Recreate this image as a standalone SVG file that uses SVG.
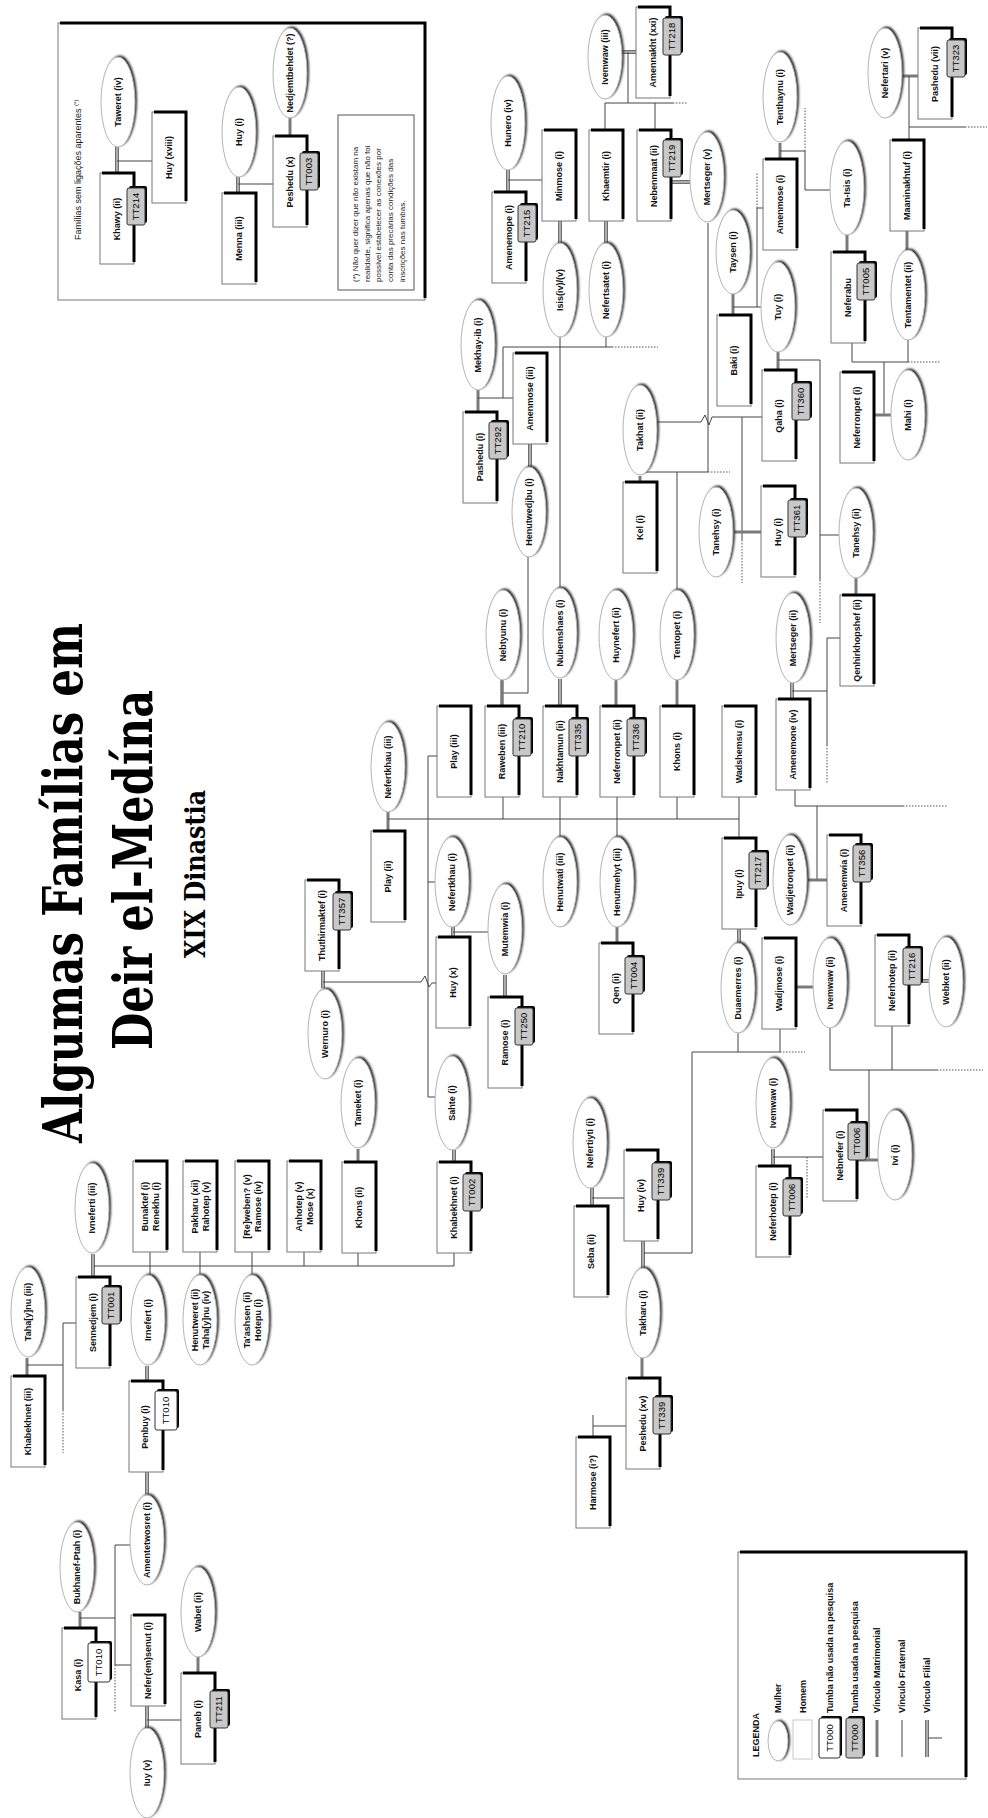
<svg xmlns="http://www.w3.org/2000/svg" width="988" height="1818" viewBox="0 0 988 1818">
<style>
.b{fill:#fff;stroke:#777;stroke-width:1}
.s{fill:none;stroke:#000;stroke-width:3}
.e{fill:#fff;stroke:#b5b5b5;stroke-width:1}
.es{fill:#2a2a2a;filter:url(#bl)}
.tg{fill:#c8c8c8;stroke:#333;stroke-width:1}
.tw{fill:#fff;stroke:#333;stroke-width:1}
.ts{fill:#000}
text{font-family:"Liberation Sans",Arial,sans-serif}
.l{font-size:9px;font-weight:bold;text-anchor:middle;fill:#111}
.tt{font-size:9.5px;text-anchor:middle;fill:#000}
.f{fill:none;stroke:#444;stroke-width:1}
.m{fill:none;stroke:#7a7a7a;stroke-width:3}
.d1{fill:none;stroke:#333;stroke-width:3.4}
.d2{fill:none;stroke:#fff;stroke-width:1.2}
.dt{fill:none;stroke:#555;stroke-width:1;stroke-dasharray:1.5 1.5}
.fn{font-size:8px;fill:#222}
.lg{font-size:9px;font-weight:bold;fill:#111}
.ti{font-family:"DejaVu Serif",serif;font-weight:bold;fill:#000}
</style>
<defs>
<filter id="bl" x="-30%" y="-30%" width="160%" height="160%"><feGaussianBlur stdDeviation="0.8"/></filter>
<g id="E"><ellipse class="es" cx="2" cy="-1.5" rx="17" ry="45"/><ellipse class="e" rx="17" ry="45"/></g>
<g id="E47"><ellipse class="es" cx="2" cy="-1.5" rx="17" ry="47"/><ellipse class="e" rx="17" ry="47"/></g>
<g id="E42"><ellipse class="es" cx="2" cy="-1.5" rx="17" ry="42"/><ellipse class="e" rx="17" ry="42"/></g>
<g id="B"><rect class="b" width="34" height="91"/><path class="s" d="M2,0H34V89"/></g>
<g id="TG"><rect class="ts" x="2" y="-2" width="18" height="37" rx="2"/><rect class="tg" width="18" height="37" rx="2"/></g>
<g id="TW"><rect class="ts" x="2" y="-2" width="22" height="39" rx="2"/><rect class="tw" width="22" height="39" rx="2"/></g>
</defs>
<rect width="988" height="1818" fill="#fff"/>

<g id="title">
<text class="ti" font-size="55" transform="translate(82,1143) rotate(-90)" textLength="520" lengthAdjust="spacingAndGlyphs">Algumas Famílias em</text>
<text class="ti" font-size="55" transform="translate(152,1050) rotate(-90)" textLength="360" lengthAdjust="spacingAndGlyphs">Deir el-Medína</text>
<text class="ti" font-size="27" transform="translate(205,958) rotate(-90)" textLength="168" lengthAdjust="spacingAndGlyphs">XIX Dinastia</text>
</g>

<g id="inset">
<rect class="b" x="58" y="23" width="367" height="277"/><path class="s" d="M60,23H425V298"/>
<text style="font-size:9px;fill:#222" dy=".35em" transform="translate(78,240) rotate(-90)">Famílias sem ligações aparentes <tspan font-size="6" dy="-3">(*)</tspan></text>
<rect x="338" y="115" width="76" height="175" fill="#fff" stroke="#555" stroke-width="1"/>
<text class="fn" dy=".35em" transform="translate(355,282) rotate(-90)">(*) Não quer dizer que não existam na</text>
<text class="fn" dy=".35em" transform="translate(367,282) rotate(-90)">realidade, significa apenas que não foi</text>
<text class="fn" dy=".35em" transform="translate(378,282) rotate(-90)">possível estabelecer as conexões por</text>
<text class="fn" dy=".35em" transform="translate(390,282) rotate(-90)">conta das precárias condições das</text>
<text class="fn" dy=".35em" transform="translate(402,282) rotate(-90)">inscrições nas tumbas.</text>
</g>

<g id="connectors">
<path class="d1" d="M117,147V173"/><path class="d2" d="M117,147V173"/>
<path class="f" d="M117,161H152"/>
<path class="d1" d="M238,177V193"/><path class="d2" d="M238,177V193"/>
<path class="f" d="M238,184H273"/>
<path class="m" d="M290,117V136"/>
<path class="d1" d="M508,170V192"/><path class="d2" d="M508,170V192"/>
<path class="f" d="M508,180H542"/>
<path class="d1" d="M560,221V243"/><path class="d2" d="M560,221V243"/>
<path class="d1" d="M606,221V243"/><path class="d2" d="M606,221V243"/>
<path class="f" d="M560,337V588"/>
<path class="d1" d="M622,52H636"/><path class="d2" d="M622,52H636"/>
<path class="f" d="M628,52V103M605,103H673M605,103V130M655,103V130"/>
<path class="dt" d="M673,103H688"/>
<path class="d1" d="M671,182H690"/><path class="d2" d="M671,182H690"/>
<path class="f" d="M708,223V472"/>
<path class="m" d="M478,390V412"/>
<path class="f" d="M478,398H513M503,347V398M503,347H612M606,337V347"/>
<path class="dt" d="M612,347H658"/>
<path class="d1" d="M530,444V467"/><path class="d2" d="M530,444V467"/>
<path class="f" d="M528,557V693H502"/>
<path class="m" d="M502,680V706"/>
<path class="m" d="M640,476V482"/>
<path class="f" d="M640,472H708M677,472V590"/>
<path class="dt" d="M708,472H730"/>
<path class="f" d="M657,422H701L705,415L709,425L712,417H762"/>
<path class="f" d="M742,417V540"/>
<path class="dt" d="M742,540V583"/>
<path class="m" d="M733,532H761"/>
<path class="m" d="M733,294V315"/>
<path class="f" d="M733,307H761M757,307V208H763"/>
<path class="dt" d="M757,208V172"/>
<path class="m" d="M778,352V370"/>
<path class="f" d="M778,360H820V580M820,535H839"/>
<path class="dt" d="M820,580V623"/>
<path class="m" d="M780,143V159"/>
<path class="f" d="M780,151H805V190H830"/>
<path class="dt" d="M805,151V108"/>
<path class="m" d="M847,235V252"/>
<path class="m" d="M902,76H918"/>
<path class="f" d="M909,76V140M909,127H965"/>
<path class="dt" d="M965,127H987"/>
<path class="m" d="M907,231V250"/>
<path class="f" d="M852,343V362H908V340M884,362V415"/>
<path class="dt" d="M908,362H940"/>
<path class="m" d="M874,415H891"/>
<path class="m" d="M856,578V595"/>
<path class="d1" d="M792,683V699"/><path class="d2" d="M792,683V699"/>
<path class="f" d="M792,691H827V638H840M827,691V745"/>
<path class="dt" d="M827,745V783"/>
<path class="m" d="M388,812V831"/>
<path class="f" d="M388,819H739M503,797V819M560,797V837M617,797V837M677,797V819M739,797V838"/>
<path class="m" d="M502,680V706"/>
<path class="d1" d="M560,679V706"/><path class="d2" d="M560,679V706"/>
<path class="m" d="M616,680V706"/>
<path class="m" d="M677,680V706"/>
<path class="f" d="M428,756H437M428,756V1097H437M428,882H435"/>
<path class="d1" d="M453,927V937"/><path class="d2" d="M453,927V937"/>
<path class="f" d="M453,932H488"/>
<path class="d1" d="M505,975V997"/><path class="d2" d="M505,975V997"/>
<path class="d1" d="M454,1150V1162"/><path class="d2" d="M454,1150V1162"/>
<path class="m" d="M358,1149V1162"/>
<path class="f" d="M358,1253V1266M454,1253V1266M93,1266H454"/>
<path class="m" d="M617,927V943"/>
<path class="f" d="M795,790V806H903M817,806V880"/>
<path class="dt" d="M903,806H948"/>
<path class="m" d="M807,880H827"/>
<path class="d1" d="M739,929V943"/><path class="d2" d="M739,929V943"/>
<path class="m" d="M796,987H813"/>
<path class="d1" d="M921,981H930"/><path class="d2" d="M921,981H930"/>
<path class="f" d="M830,1028V1070H937M892,1026V1070M869,1070V1160"/>
<path class="dt" d="M937,1070H983"/>
<path class="m" d="M857,1160H878"/>
<path class="d1" d="M773,1149V1166"/><path class="d2" d="M773,1149V1166"/>
<path class="f" d="M773,1157H823"/>
<path class="dt" d="M807,1157V1198"/>
<path class="f" d="M738,1033V1052M780,1029V1052M643,1253H692V1052H780"/>
<path class="dt" d="M780,1052H805"/>
<path class="d1" d="M592,1188V1206"/><path class="d2" d="M592,1188V1206"/>
<path class="f" d="M592,1198H624"/>
<path class="d1" d="M643,1241V1268"/><path class="d2" d="M643,1241V1268"/>
<path class="m" d="M642,1358V1378"/>
<path class="f" d="M593,1415V1437M593,1426H626"/>
<path class="d1" d="M323,971V988"/><path class="d2" d="M323,971V988"/>
<path class="f" d="M323,982H421L425,976L429,987L432,983H436"/>
<path class="d1" d="M93,1254V1277"/><path class="d2" d="M93,1254V1277"/>
<path class="f" d="M150,1252V1274M200,1252V1274M252,1252V1274M304,1252V1266"/>
<path class="m" d="M27,1358V1376"/>
<path class="f" d="M27,1365H63M63,1323H76M63,1323V1410"/>
<path class="dt" d="M63,1410V1453"/>
<path class="d1" d="M147,1366V1381"/><path class="d2" d="M147,1366V1381"/>
<path class="d1" d="M147,1472V1494"/><path class="d2" d="M147,1472V1494"/>
<path class="m" d="M80,1612V1628"/>
<path class="f" d="M80,1618H115M115,1545H130M115,1545V1665H131"/>
<path class="dt" d="M115,1665V1712"/>
<path class="d1" d="M147,1706V1729"/><path class="d2" d="M147,1706V1729"/>
<path class="f" d="M147,1720H181"/>
<path class="m" d="M198,1657V1673"/>
</g>

<g id="n-taweret-iv"><use href="#E" x="118" y="102"/><text class="l" dy=".35em" transform="translate(118,102) rotate(-90)">Taweret (iv)</text></g>
<g id="n-khawy-ii"><use href="#B" x="100" y="173"/><use href="#TG" x="127" y="188"/><text class="l" dy=".35em" transform="translate(117,219) rotate(-90)">Khawy (ii)</text><text class="tt" dy=".35em" transform="translate(136,206.5) rotate(-90)">TT214</text></g>
<g id="n-huy-xviii"><use href="#B" x="152" y="112"/><text class="l" dy=".35em" transform="translate(169,157.5) rotate(-90)">Huy (xviii)</text></g>
<g id="n-huy-i-a"><use href="#E" x="239" y="132"/><text class="l" dy=".35em" transform="translate(239,132) rotate(-90)">Huy (i)</text></g>
<g id="n-nedjemtbehdet"><use href="#E" x="290" y="73"/><text class="l" dy=".35em" transform="translate(290,73) rotate(-90)">Nedjemtbehdet (?)</text></g>
<g id="n-menna-iii"><use href="#B" x="222" y="193"/><text class="l" dy=".35em" transform="translate(239,238.5) rotate(-90)">Menna (iii)</text></g>
<g id="n-peshedu-x"><use href="#B" x="273" y="136"/><use href="#TG" x="300" y="153"/><text class="l" dy=".35em" transform="translate(290,182) rotate(-90)">Peshedu (x)</text><text class="tt" dy=".35em" transform="translate(309,171.5) rotate(-90)">TT003</text></g>

<g id="n-hunero-iv"><use href="#E47" x="508" y="123"/><text class="l" dy=".35em" transform="translate(508,123) rotate(-90)">Hunero (iv)</text></g>
<g id="n-amenemope-i"><use href="#B" x="492" y="192"/><use href="#TG" x="518" y="205"/><text class="l" dy=".35em" transform="translate(509,237.5) rotate(-90)">Amenemope (i)</text><text class="tt" dy=".35em" transform="translate(527,223.5) rotate(-90)">TT215</text></g>
<g id="n-minmose-i"><use href="#B" x="542" y="130"/><text class="l" dy=".35em" transform="translate(559,176) rotate(-90)">Minmose (i)</text></g>
<g id="n-isis"><use href="#E47" x="560" y="290"/><text class="l" dy=".35em" transform="translate(560,290) rotate(-90)">Isis(iv)/(v)</text></g>
<g id="n-khaemtir-i"><use href="#B" x="589" y="130"/><text class="l" dy=".35em" transform="translate(606,176) rotate(-90)">Khaemtir (i)</text></g>
<g id="n-nefertsatet-i"><use href="#E47" x="606" y="290"/><text class="l" dy=".35em" transform="translate(606,290) rotate(-90)">Nefertsatet (i)</text></g>
<g id="n-ivemwaw-iii"><use href="#E42" x="605" y="57"/><text class="l" dy=".35em" transform="translate(605,57) rotate(-90)">Ivemwaw (iii)</text></g>
<g id="n-amennakht-xxi"><use href="#B" x="636" y="7"/><use href="#TG" x="663" y="18"/><text class="l" dy=".35em" transform="translate(653,52.5) rotate(-90)">Amennakht (xxi)</text><text class="tt" dy=".35em" transform="translate(672,36.5) rotate(-90)">TT218</text></g>
<g id="n-nebenmaat-ii"><use href="#B" x="637" y="130"/><use href="#TG" x="663" y="140"/><text class="l" dy=".35em" transform="translate(654,176) rotate(-90)">Nebenmaat (ii)</text><text class="tt" dy=".35em" transform="translate(672,158.5) rotate(-90)">TT219</text></g>
<g id="n-mertseger-v"><use href="#E" x="707" y="177"/><text class="l" dy=".35em" transform="translate(707,177) rotate(-90)">Mertseger (v)</text></g>
<g id="n-mekhay-ib-i"><use href="#E" x="478" y="345"/><text class="l" dy=".35em" transform="translate(478,345) rotate(-90)">Mekhay-ib (i)</text></g>
<g id="n-amenmose-iii"><use href="#B" x="513" y="353"/><text class="l" dy=".35em" transform="translate(530,398.5) rotate(-90)">Amenmose (iii)</text></g>
<g id="n-pashedu-i"><use href="#B" x="463" y="412"/><use href="#TG" x="489" y="422"/><text class="l" dy=".35em" transform="translate(480,457) rotate(-90)">Pashedu (i)</text><text class="tt" dy=".35em" transform="translate(498,440.5) rotate(-90)">TT292</text></g>
<g id="n-takhat-ii"><use href="#E" x="640" y="430"/><text class="l" dy=".35em" transform="translate(640,430) rotate(-90)">Takhat (ii)</text></g>
<g id="n-taysen-i"><use href="#E42" x="733" y="252"/><text class="l" dy=".35em" transform="translate(733,252) rotate(-90)">Taysen (i)</text></g>
<g id="n-baki-i"><use href="#B" x="717" y="315"/><text class="l" dy=".35em" transform="translate(734,360.5) rotate(-90)">Baki (i)</text></g>
<g id="n-tuy-i"><use href="#E" x="778" y="307"/><text class="l" dy=".35em" transform="translate(778,307) rotate(-90)">Tuy (i)</text></g>
<g id="n-qaha-i"><use href="#B" x="762" y="370"/><use href="#TG" x="792" y="383"/><text class="l" dy=".35em" transform="translate(779,416) rotate(-90)">Qaha (i)</text><text class="tt" dy=".35em" transform="translate(801,401.5) rotate(-90)">TT360</text></g>
<g id="n-amenmose-i"><use href="#B" x="763" y="159"/><text class="l" dy=".35em" transform="translate(780,204.5) rotate(-90)">Amenmose (i)</text></g>
<g id="n-tenthaynu-i"><use href="#E" x="780" y="97"/><text class="l" dy=".35em" transform="translate(780,97) rotate(-90)">Tenthaynu (i)</text></g>
<g id="n-ta-isis-i"><use href="#E47" x="847" y="188"/><text class="l" dy=".35em" transform="translate(847,188) rotate(-90)">Ta-Isis (i)</text></g>
<g id="n-neferabu"><use href="#B" x="831" y="252"/><use href="#TG" x="857" y="263"/><text class="l" dy=".35em" transform="translate(848,297.5) rotate(-90)">Neferabu</text><text class="tt" dy=".35em" transform="translate(866,281.5) rotate(-90)">TT005</text></g>
<g id="n-nefertari-v"><use href="#E" x="885" y="73"/><text class="l" dy=".35em" transform="translate(885,73) rotate(-90)">Nefertari (v)</text></g>
<g id="n-pashedu-vii"><use href="#B" x="918" y="28"/><use href="#TG" x="947" y="40"/><text class="l" dy=".35em" transform="translate(935,74) rotate(-90)">Pashedu (vii)</text><text class="tt" dy=".35em" transform="translate(956,58.5) rotate(-90)">TT323</text></g>
<g id="n-maaninakhtuf-i"><use href="#B" x="890" y="140"/><text class="l" dy=".35em" transform="translate(907,185.5) rotate(-90)">Maaninakhtuf (i)</text></g>
<g id="n-tentamentet-ii"><use href="#E" x="908" y="295"/><text class="l" dy=".35em" transform="translate(908,295) rotate(-90)">Tentamentet (ii)</text></g>
<g id="n-neferronpet-i"><use href="#B" x="840" y="372"/><text class="l" dy=".35em" transform="translate(857,417.5) rotate(-90)">Neferronpet (i)</text></g>
<g id="n-mahi-i"><use href="#E" x="908" y="415"/><text class="l" dy=".35em" transform="translate(908,415) rotate(-90)">Mahi (i)</text></g>
<g id="n-henutwedjbu-i"><use href="#E" x="529" y="512"/><text class="l" dy=".35em" transform="translate(529,512) rotate(-90)">Henutwedjbu (i)</text></g>
<g id="n-kel-i"><use href="#B" x="623" y="482"/><text class="l" dy=".35em" transform="translate(640,527.5) rotate(-90)">Kel (i)</text></g>
<g id="n-nebtyunu-i"><use href="#E" x="503" y="635"/><text class="l" dy=".35em" transform="translate(503,635) rotate(-90)">Nebtyunu (i)</text></g>
<g id="n-nubemshaes-i"><use href="#E" x="560" y="633"/><text class="l" dy=".35em" transform="translate(560,633) rotate(-90)">Nubemshaes (i)</text></g>
<g id="n-huynefert-ii"><use href="#E" x="616" y="635"/><text class="l" dy=".35em" transform="translate(616,635) rotate(-90)">Huynefert (ii)</text></g>
<g id="n-tentopet-i"><use href="#E" x="677" y="635"/><text class="l" dy=".35em" transform="translate(677,635) rotate(-90)">Tentopet (i)</text></g>
<g id="n-tanehsy-i"><use href="#E" x="716" y="532"/><text class="l" dy=".35em" transform="translate(716,532) rotate(-90)">Tanehsy (i)</text></g>
<g id="n-huy-i-b"><use href="#B" x="761" y="486"/><use href="#TG" x="788" y="500"/><text class="l" dy=".35em" transform="translate(778,532) rotate(-90)">Huy (i)</text><text class="tt" dy=".35em" transform="translate(797,518.5) rotate(-90)">TT361</text></g>
<g id="n-tanehsy-ii"><use href="#E" x="856" y="533"/><text class="l" dy=".35em" transform="translate(856,533) rotate(-90)">Tanehsy (ii)</text></g>
<g id="n-qenhirkhopshef-ii"><use href="#B" x="840" y="595"/><text class="l" dy=".35em" transform="translate(857,640.5) rotate(-90)">Qenhirkhopshef (ii)</text></g>
<g id="n-mertseger-ii"><use href="#E" x="793" y="638"/><text class="l" dy=".35em" transform="translate(793,638) rotate(-90)">Mertseger (ii)</text></g>
<g id="n-amenemone-iv"><use href="#B" x="776" y="699"/><text class="l" dy=".35em" transform="translate(793,744.5) rotate(-90)">Amenemone (iv)</text></g>
<g id="n-play-iii"><use href="#B" x="437" y="706"/><text class="l" dy=".35em" transform="translate(454,751.5) rotate(-90)">Play (iii)</text></g>
<g id="n-raweben-iii"><use href="#B" x="485" y="706"/><use href="#TG" x="513" y="719"/><text class="l" dy=".35em" transform="translate(502,751.5) rotate(-90)">Raweben (iii)</text><text class="tt" dy=".35em" transform="translate(522,737.5) rotate(-90)">TT210</text></g>
<g id="n-nakhtamun-ii"><use href="#B" x="543" y="706"/><use href="#TG" x="569" y="719"/><text class="l" dy=".35em" transform="translate(560,751.5) rotate(-90)">Nakhtamun (ii)</text><text class="tt" dy=".35em" transform="translate(578,737.5) rotate(-90)">TT335</text></g>
<g id="n-neferronpet-ii"><use href="#B" x="600" y="706"/><use href="#TG" x="627" y="719"/><text class="l" dy=".35em" transform="translate(617,751.5) rotate(-90)">Neferronpet (ii)</text><text class="tt" dy=".35em" transform="translate(636,737.5) rotate(-90)">TT336</text></g>
<g id="n-khons-i"><use href="#B" x="660" y="706"/><text class="l" dy=".35em" transform="translate(677,751.5) rotate(-90)">Khons (i)</text></g>
<g id="n-wadshemsu-i"><use href="#B" x="722" y="706"/><text class="l" dy=".35em" transform="translate(739,751.5) rotate(-90)">Wadshemsu (i)</text></g>
<g id="n-nefertkhau-iii"><use href="#E" x="388" y="767"/><text class="l" dy=".35em" transform="translate(388,767) rotate(-90)">Nefertkhau (iii)</text></g>
<g id="n-play-ii"><use href="#B" x="371" y="831"/><text class="l" dy=".35em" transform="translate(388,876.5) rotate(-90)">Play (ii)</text></g>
<g id="n-ipuy-i"><use href="#B" x="722" y="838"/><use href="#TG" x="749" y="852"/><text class="l" dy=".35em" transform="translate(739,884) rotate(-90)">Ipuy (i)</text><text class="tt" dy=".35em" transform="translate(758,870.5) rotate(-90)">TT217</text></g>
<g id="n-wadjetronpet-ii"><use href="#E" x="790" y="880"/><text class="l" dy=".35em" transform="translate(790,880) rotate(-90)">Wadjetronpet (ii)</text></g>
<g id="n-amenemwia-i"><use href="#B" x="827" y="835"/><use href="#TG" x="853" y="845"/><text class="l" dy=".35em" transform="translate(844,880.5) rotate(-90)">Amenemwia (i)</text><text class="tt" dy=".35em" transform="translate(862,863.5) rotate(-90)">TT356</text></g>
<g id="n-nefertkhau-i"><use href="#E" x="452" y="882"/><text class="l" dy=".35em" transform="translate(452,882) rotate(-90)">Nefertkhau (i)</text></g>
<g id="n-huy-x"><use href="#B" x="436" y="937"/><text class="l" dy=".35em" transform="translate(453,982.5) rotate(-90)">Huy (x)</text></g>
<g id="n-mutemwia-i"><use href="#E" x="505" y="929"/><text class="l" dy=".35em" transform="translate(505,929) rotate(-90)">Mutemwia (i)</text></g>
<g id="n-ramose-i"><use href="#B" x="488" y="997"/><use href="#TG" x="515" y="1008"/><text class="l" dy=".35em" transform="translate(505,1042.5) rotate(-90)">Ramose (i)</text><text class="tt" dy=".35em" transform="translate(524,1026.5) rotate(-90)">TT250</text></g>
<g id="n-sahte-i"><use href="#E47" x="452" y="1103"/><text class="l" dy=".35em" transform="translate(452,1103) rotate(-90)">Sahte (i)</text></g>
<g id="n-khabekhnet-i"><use href="#B" x="437" y="1162"/><use href="#TG" x="463" y="1174"/><text class="l" dy=".35em" transform="translate(454,1207.5) rotate(-90)">Khabekhnet (i)</text><text class="tt" dy=".35em" transform="translate(472,1192.5) rotate(-90)">TT002</text></g>
<g id="n-tameket-i"><use href="#E" x="358" y="1103"/><text class="l" dy=".35em" transform="translate(358,1103) rotate(-90)">Tameket (i)</text></g>
<g id="n-khons-ii"><use href="#B" x="342" y="1162"/><text class="l" dy=".35em" transform="translate(359,1207.5) rotate(-90)">Khons (ii)</text></g>
<g id="n-henutwati-iii"><use href="#E" x="560" y="882"/><text class="l" dy=".35em" transform="translate(560,882) rotate(-90)">Henutwati (iii)</text></g>
<g id="n-henutmehyt-iii"><use href="#E" x="617" y="882"/><text class="l" dy=".35em" transform="translate(617,882) rotate(-90)">Henutmehyt (iii)</text></g>
<g id="n-qen-ii"><use href="#B" x="599" y="943"/><use href="#TG" x="625" y="957"/><text class="l" dy=".35em" transform="translate(616,988.5) rotate(-90)">Qen (ii)</text><text class="tt" dy=".35em" transform="translate(634,975.5) rotate(-90)">TT004</text></g>
<g id="n-nefertiyti-i"><use href="#E" x="590" y="1143"/><text class="l" dy=".35em" transform="translate(590,1143) rotate(-90)">Nefertiyti (i)</text></g>
<g id="n-seba-ii"><use href="#B" x="574" y="1206"/><text class="l" dy=".35em" transform="translate(591,1251.5) rotate(-90)">Seba (ii)</text></g>
<g id="n-huy-iv"><use href="#B" x="624" y="1150"/><use href="#TG" x="652" y="1163"/><text class="l" dy=".35em" transform="translate(641,1195.5) rotate(-90)">Huy (iv)</text><text class="tt" dy=".35em" transform="translate(661,1181.5) rotate(-90)">TT339</text></g>
<g id="n-takharu-i"><use href="#E" x="643" y="1313"/><text class="l" dy=".35em" transform="translate(643,1313) rotate(-90)">Takharu (i)</text></g>
<g id="n-peshedu-xv"><use href="#B" x="626" y="1378"/><use href="#TG" x="653" y="1397"/><text class="l" dy=".35em" transform="translate(643,1423.5) rotate(-90)">Peshedu (xv)</text><text class="tt" dy=".35em" transform="translate(662,1415.5) rotate(-90)">TT339</text></g>
<g id="n-harmose"><use href="#B" x="576" y="1437"/><text class="l" dy=".35em" transform="translate(593,1482.5) rotate(-90)">Harmose (i?)</text></g>
<g id="n-duaemerres-i"><use href="#E" x="738" y="988"/><text class="l" dy=".35em" transform="translate(738,988) rotate(-90)">Duaemerres (i)</text></g>
<g id="n-wadjmose-i"><use href="#B" x="762" y="938"/><text class="l" dy=".35em" transform="translate(779,983.5) rotate(-90)">Wadjmose (i)</text></g>
<g id="n-ivemwaw-ii"><use href="#E" x="830" y="983"/><text class="l" dy=".35em" transform="translate(830,983) rotate(-90)">Ivemwaw (ii)</text></g>
<g id="n-neferhotep-ii"><use href="#B" x="875" y="935"/><use href="#TG" x="903" y="948"/><text class="l" dy=".35em" transform="translate(892,980.5) rotate(-90)">Neferhotep (ii)</text><text class="tt" dy=".35em" transform="translate(912,966.5) rotate(-90)">TT216</text></g>
<g id="n-webket-ii"><use href="#E" x="946" y="982"/><text class="l" dy=".35em" transform="translate(946,982) rotate(-90)">Webket (ii)</text></g>
<g id="n-ivemwaw-i"><use href="#E" x="773" y="1103"/><text class="l" dy=".35em" transform="translate(773,1103) rotate(-90)">Ivemwaw (i)</text></g>
<g id="n-neferhotep-i"><use href="#B" x="756" y="1166"/><use href="#TG" x="783" y="1179"/><text class="l" dy=".35em" transform="translate(773,1211.5) rotate(-90)">Neferhotep (i)</text><text class="tt" dy=".35em" transform="translate(792,1197.5) rotate(-90)">TT006</text></g>
<g id="n-nebnefer-i"><use href="#B" x="823" y="1110"/><use href="#TG" x="848" y="1123"/><text class="l" dy=".35em" transform="translate(840,1155.5) rotate(-90)">Nebnefer (i)</text><text class="tt" dy=".35em" transform="translate(857,1141.5) rotate(-90)">TT006</text></g>
<g id="n-ivi-i"><use href="#E" x="895" y="1155"/><text class="l" dy=".35em" transform="translate(895,1155) rotate(-90)">Ivi (i)</text></g>
<g id="n-thuthirmaktef-i"><use href="#B" x="305" y="880"/><use href="#TG" x="333" y="893"/><text class="l" dy=".35em" transform="translate(322,925.5) rotate(-90)">Thuthirmaktef (i)</text><text class="tt" dy=".35em" transform="translate(342,911.5) rotate(-90)">TT357</text></g>
<g id="n-wernuro-i"><use href="#E" x="325" y="1034"/><text class="l" dy=".35em" transform="translate(325,1034) rotate(-90)">Wernuro (i)</text></g>
<g id="n-tahaynu-iii"><use href="#E" x="28" y="1312"/><text class="l" dy=".35em" transform="translate(28,1312) rotate(-90)">Taha[y]nu (iii)</text></g>
<g id="n-ivneferti-iii"><use href="#E" x="92" y="1208"/><text class="l" dy=".35em" transform="translate(92,1208) rotate(-90)">Ivneferti (iii)</text></g>
<g id="n-sennedjem-i"><use href="#B" x="76" y="1277"/><use href="#TG" x="102" y="1287"/><text class="l" dy=".35em" transform="translate(93,1322.5) rotate(-90)">Sennedjem (i)</text><text class="tt" dy=".35em" transform="translate(111,1305.5) rotate(-90)">TT001</text></g>
<g id="n-bunaktef"><use href="#B" x="133" y="1161"/><text class="l" transform="translate(150,1206.5) rotate(-90)"><tspan x="0" dy="-0.25em">Bunaktef (i)</tspan><tspan x="0" dy="1.22em">Renekhu (i)</tspan></text></g>
<g id="n-pakharu"><use href="#B" x="183" y="1161"/><text class="l" transform="translate(200,1206.5) rotate(-90)"><tspan x="0" dy="-0.25em">Pakharu (xii)</tspan><tspan x="0" dy="1.22em">Rahotep (v)</tspan></text></g>
<g id="n-reweben"><use href="#B" x="235" y="1161"/><text class="l" transform="translate(252,1206.5) rotate(-90)"><tspan x="0" dy="-0.25em">[Re]weben? (v)</tspan><tspan x="0" dy="1.22em">Ramose (iv)</tspan></text></g>
<g id="n-anhotep"><use href="#B" x="287" y="1161"/><text class="l" transform="translate(304,1206.5) rotate(-90)"><tspan x="0" dy="-0.25em">Anhotep (v)</tspan><tspan x="0" dy="1.22em">Mose (x)</tspan></text></g>
<g id="n-irnefert-i"><use href="#E" x="148" y="1320"/><text class="l" dy=".35em" transform="translate(148,1320) rotate(-90)">Irnefert (i)</text></g>
<g id="n-henutweret"><use href="#E" x="200" y="1320"/><text class="l" transform="translate(200,1320) rotate(-90)"><tspan x="0" dy="-0.25em">Henutweret (ii)</tspan><tspan x="0" dy="1.22em">Taha[y]nu (iv)</tspan></text></g>
<g id="n-taashsen"><use href="#E" x="252" y="1320"/><text class="l" transform="translate(252,1320) rotate(-90)"><tspan x="0" dy="-0.25em">Ta'ashsen (ii)</tspan><tspan x="0" dy="1.22em">Hotepu (i)</tspan></text></g>
<g id="n-khabekhnet-iii"><use href="#B" x="11" y="1376"/><text class="l" dy=".35em" transform="translate(28,1421.5) rotate(-90)">Khabekhnet (iii)</text></g>
<g id="n-penbuy-i"><use href="#B" x="129" y="1381"/><use href="#TW" x="155" y="1391"/><text class="l" dy=".35em" transform="translate(145,1427) rotate(-90)">Penbuy (i)</text><text class="tt" dy=".35em" transform="translate(166,1410.5) rotate(-90)">TT010</text></g>
<g id="n-amentetwosret-i"><use href="#E" x="147" y="1540"/><text class="l" dy=".35em" transform="translate(147,1540) rotate(-90)">Amentetwosret (i)</text></g>
<g id="n-bukhanef-ptah-i"><use href="#E" x="77" y="1567"/><text class="l" dy=".35em" transform="translate(77,1567) rotate(-90)">Bukhanef-Ptah (i)</text></g>
<g id="n-kasa-i"><use href="#B" x="62" y="1628"/><use href="#TW" x="88" y="1643"/><text class="l" dy=".35em" transform="translate(78,1675) rotate(-90)">Kasa (i)</text><text class="tt" dy=".35em" transform="translate(99,1662.5) rotate(-90)">TT010</text></g>
<g id="n-neferemsenut-i"><use href="#B" x="131" y="1615"/><text class="l" dy=".35em" transform="translate(148,1660.5) rotate(-90)">Nefer(em)senut (i)</text></g>
<g id="n-iuy-v"><use href="#E" x="147" y="1773"/><text class="l" dy=".35em" transform="translate(147,1773) rotate(-90)">Iuy (v)</text></g>
<g id="n-wabet-ii"><use href="#E" x="198" y="1612"/><text class="l" dy=".35em" transform="translate(198,1612) rotate(-90)">Wabet (ii)</text></g>
<g id="n-paneb-i"><use href="#B" x="181" y="1673"/><use href="#TG" x="210" y="1691"/><text class="l" dy=".35em" transform="translate(198,1719) rotate(-90)">Paneb (i)</text><text class="tt" dy=".35em" transform="translate(219,1709.5) rotate(-90)">TT211</text></g>

<g id="legend">
<rect class="b" x="738" y="1552" width="228" height="227"/><path class="s" d="M740,1552H966V1777"/>
<text class="lg" dy=".35em" transform="translate(756,1757) rotate(-90)">LEGENDA</text>
<ellipse cx="780" cy="1740" rx="10" ry="20" fill="#2a2a2a" filter="url(#bl)"/><ellipse cx="778" cy="1741" rx="10" ry="20" fill="#fff" stroke="#b5b5b5"/>
<text class="lg" dy=".35em" transform="translate(778,1713) rotate(-90)">Mulher</text>
<rect x="793" y="1720" width="19" height="39" fill="#fff" stroke="#c8c8c8"/>
<text class="lg" dy=".35em" transform="translate(803,1713) rotate(-90)">Homem</text>
<rect class="ts" x="821" y="1716" width="21" height="40" rx="2"/><rect class="tw" x="819" y="1718" width="21" height="40" rx="2"/>
<text class="tt" dy=".35em" transform="translate(829.5,1738) rotate(-90)">TT000</text>
<text class="lg" dy=".35em" transform="translate(830,1713) rotate(-90)">Tumba não usada na pesquisa</text>
<rect class="ts" x="848" y="1716" width="17" height="40" rx="2"/><rect class="tg" x="846" y="1718" width="17" height="40" rx="2"/>
<text class="tt" dy=".35em" transform="translate(854.5,1738) rotate(-90)">TT000</text>
<text class="lg" dy=".35em" transform="translate(855,1713) rotate(-90)">Tumba usada na pesquisa</text>
<path class="m" d="M877,1720V1757"/>
<text class="lg" dy=".35em" transform="translate(877,1713) rotate(-90)">Vínculo Matrimonial</text>
<path class="f" d="M902,1720V1757"/>
<text class="lg" dy=".35em" transform="translate(902,1713) rotate(-90)">Vínculo Fraternal</text>
<path class="d1" d="M927,1720V1757"/><path class="d2" d="M927,1720V1757"/><path class="f" d="M928,1738H942"/>
<text class="lg" dy=".35em" transform="translate(927,1713) rotate(-90)">Vínculo Filial</text>
</g>
</svg>
